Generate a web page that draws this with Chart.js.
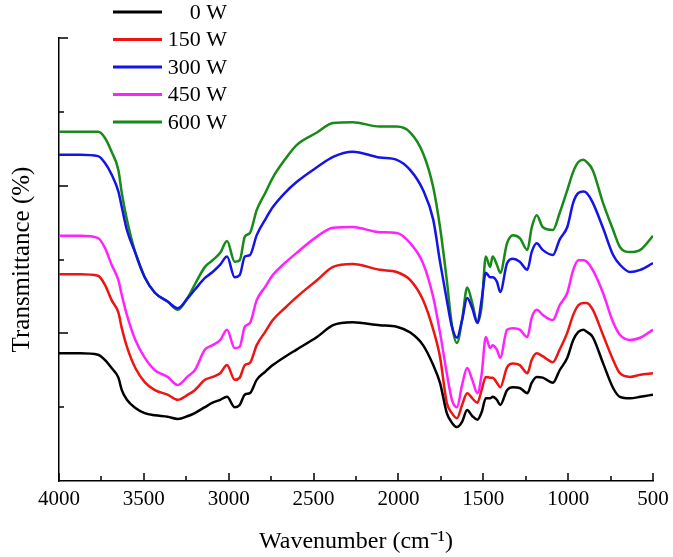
<!DOCTYPE html>
<html lang="en">
<head>
  <meta charset="UTF-8">
  <title>FTIR spectra</title>
  <script src="https://cdn.jsdelivr.net/npm/chart.js"></script>
  <style>
    body { margin: 0; background: white; }
    .wrap { width: 673px; height: 557px; position: relative; }
  </style>
</head>
<body>
  <div class="wrap"><canvas id="ftirChart"></canvas></div>

  <script>
    // wavenumbers (cm-1), shared by all spectra
    const wavenumbers = [4000, 3875, 3770, 3730, 3690, 3650, 3630, 3600, 3550, 3495,
      3435, 3360, 3300, 3240, 3200, 3140, 3095, 3050, 3010, 2965,
      2935, 2905, 2875, 2835, 2785, 2740, 2670, 2600, 2480, 2385,
      2270, 2110, 2010, 1930, 1855, 1795, 1755, 1715, 1685, 1655,
      1625, 1595, 1565, 1535, 1510, 1485, 1460, 1445, 1420, 1400,
      1360, 1325, 1285, 1240, 1215, 1185, 1150, 1090, 1050, 1005,
      970, 940, 910, 890, 855, 795, 735, 695, 635, 575,
      500];

    const w0 = [17.3, 17.3, 17.1, 16.4, 15.3, 14.0, 12.3, 11.0, 9.9, 9.2,
      8.9, 8.7, 8.4, 8.8, 9.2, 10.0, 10.6, 11.0, 11.4, 10.0,
      10.3, 11.7, 11.9, 13.7, 14.8, 15.7, 16.8, 17.8, 19.5, 21.1,
      21.5, 21.1, 20.9, 20.1, 18.4, 15.7, 13.3, 9.2, 7.9, 7.3,
      8.0, 9.6, 8.8, 8.3, 9.3, 11.2, 11.2, 11.4, 11.0, 10.3,
      12.3, 12.7, 12.6, 11.9, 13.3, 14.1, 14.0, 13.3, 15.0, 16.7,
      19.1, 20.2, 20.5, 20.2, 19.5, 16.0, 12.6, 11.4, 11.2, 11.4,
      11.7];

    const w150 = [28.0, 28.0, 27.8, 26.6, 24.5, 22.8, 20.7, 18.2, 15.3, 13.4,
      12.3, 11.7, 11.0, 11.7, 12.3, 13.7, 14.1, 14.6, 15.7, 13.7,
      14.0, 15.7, 16.0, 18.4, 20.2, 21.8, 23.4, 24.9, 27.2, 29.0,
      29.4, 28.6, 28.3, 27.2, 24.5, 20.5, 16.8, 10.6, 9.2, 8.5,
      10.3, 11.9, 11.2, 10.6, 12.3, 14.1, 14.0, 14.0, 13.3, 12.7,
      15.4, 15.9, 15.7, 14.6, 16.4, 17.3, 16.9, 16.1, 17.8, 20.1,
      22.5, 23.8, 24.1, 24.1, 23.2, 19.8, 16.4, 14.6, 14.1, 14.4,
      14.6];

    const w300 = [44.2, 44.2, 44.0, 43.1, 41.5, 39.2, 37.1, 34.0, 30.9, 27.6,
      25.5, 24.3, 23.4, 24.8, 25.9, 27.5, 28.3, 29.3, 30.4, 27.6,
      27.9, 30.4, 30.6, 33.3, 35.4, 37.1, 39.0, 40.5, 42.5, 43.9,
      44.6, 43.8, 43.5, 42.1, 39.4, 35.4, 29.7, 24.5, 20.9, 19.4,
      21.8, 24.8, 23.4, 21.4, 24.5, 28.2, 27.6, 27.6, 27.0, 25.6,
      29.5, 30.1, 29.7, 28.6, 31.0, 32.2, 31.3, 30.6, 32.7, 34.4,
      37.7, 39.0, 39.2, 39.0, 37.7, 34.3, 30.6, 29.3, 28.3, 28.6,
      29.5];

    const w450 = [33.2, 33.2, 32.9, 31.6, 29.3, 27.2, 25.2, 22.5, 19.1, 16.7,
      15.0, 14.1, 13.0, 14.2, 15.0, 17.8, 18.4, 19.1, 20.5, 18.0,
      18.2, 20.9, 21.4, 24.5, 26.3, 27.9, 29.5, 30.9, 33.1, 34.3,
      34.4, 33.7, 33.6, 32.2, 29.5, 24.9, 20.1, 14.6, 11.0, 10.0,
      13.0, 15.3, 13.7, 11.9, 14.4, 19.5, 18.0, 18.4, 17.8, 16.7,
      20.5, 20.7, 20.5, 19.5, 22.1, 23.2, 22.5, 21.8, 23.8, 25.5,
      28.6, 29.9, 29.9, 29.7, 28.6, 25.5, 21.5, 19.8, 19.1, 19.4,
      20.5];

    const w600 = [47.3, 47.3, 47.3, 46.5, 44.6, 42.1, 39.0, 35.4, 30.9, 27.6,
      25.5, 24.3, 23.2, 24.9, 26.6, 29.0, 29.9, 30.9, 32.5, 29.7,
      29.9, 33.1, 33.6, 36.7, 39.0, 41.1, 43.5, 45.5, 47.2, 48.5,
      48.6, 48.0, 48.0, 47.2, 44.4, 39.8, 34.4, 27.2, 21.1, 18.7,
      21.8, 26.2, 24.1, 21.5, 23.6, 30.4, 29.0, 30.4, 29.3, 28.2,
      32.2, 33.3, 32.9, 31.3, 34.3, 36.0, 34.4, 34.0, 36.3, 39.4,
      41.9, 43.2, 43.5, 43.2, 42.1, 37.7, 34.0, 31.7, 31.0, 31.3,
      33.2];

    const seriesLabels = ['0 W', '150 W', '300 W', '450 W', '600 W'];
    const seriesValues = [w0, w150, w300, w450, w600];
    const seriesColors = ['#000000', '#ee1414', '#1414e6', '#ff22ff', '#178a17'];

    const xTicks = [500, 1000, 1500, 2000, 2500, 3000, 3500, 4000];
    const yTicks = [10, 20, 30, 40, 50, 60];

    const serif = '"Liberation Serif", "Times New Roman", serif';

    // tick marks pointing into the plot, as in the original figure
    const innerTicks = {
      id: 'innerTicks',
      afterDraw(chart) {
        const { ctx, chartArea, scales: { x, y } } = chart;
        ctx.save();
        ctx.strokeStyle = '#000';
        ctx.lineWidth = 1.5;
        ctx.beginPath();
        for (let wn = 500; wn <= 4000; wn += 250) {
          const px = Math.round(x.getPixelForValue(wn));
          const len = xTicks.includes(wn) ? 8 : 5;
          ctx.moveTo(px, chartArea.bottom);
          ctx.lineTo(px, chartArea.bottom - len);
        }
        yTicks.forEach(v => {
          const py = Math.round(y.getPixelForValue(v));
          const len = v % 20 === 0 ? 9 : 5;
          ctx.moveTo(chartArea.left, py);
          ctx.lineTo(chartArea.left + len, py);
        });
        ctx.stroke();
        ctx.restore();
      }
    };

    // legend in the top left corner, labels right aligned
    const cornerLegend = {
      id: 'cornerLegend',
      afterDraw(chart) {
        const ctx = chart.ctx;
        ctx.save();
        ctx.font = '22px ' + serif;
        ctx.textAlign = 'right';
        ctx.textBaseline = 'middle';
        chart.data.datasets.forEach((ds, i) => {
          const yy = 12 + i * 27.5;
          ctx.strokeStyle = ds.borderColor;
          ctx.lineWidth = 3;
          ctx.beginPath();
          ctx.moveTo(113, yy);
          ctx.lineTo(162, yy);
          ctx.stroke();
          ctx.fillStyle = '#000';
          ctx.fillText(ds.label, 227, yy + 1);
        });
        ctx.restore();
      }
    };

    new Chart(document.getElementById('ftirChart'), {
      type: 'line',
      data: {
        datasets: seriesLabels.map((label, i) => ({
          label: label,
          data: wavenumbers.map((wn, j) => ({ x: wn, y: seriesValues[i][j] })),
          borderColor: seriesColors[i],
          borderWidth: 2.5,
          pointRadius: 0,
          tension: 0.3,
          cubicInterpolationMode: 'monotone',
          fill: false
        }))
      },
      options: {
        responsive: true,
        maintainAspectRatio: false,
        animation: false,
        layout: { padding: { top: 38, right: 20, left: 0, bottom: 0 } },
        plugins: {
          legend: { display: false },
          tooltip: { enabled: false }
        },
        scales: {
          x: {
            type: 'linear',
            reverse: true,
            min: 500,
            max: 4000,
            afterBuildTicks: scale => { scale.ticks = xTicks.map(v => ({ value: v })); },
            afterFit: scale => { scale.height = 76; },
            grid: { display: true, drawOnChartArea: false, drawTicks: false },
            border: { display: true, color: '#000', width: 1.5 },
            ticks: {
              color: '#000',
              padding: 6,
              maxRotation: 0,
              font: { family: serif, size: 21 },
              callback: v => String(v)
            },
            title: {
              display: true,
              text: 'Wavenumber (cm\u207B\u00B9)',
              color: '#000',
              padding: { top: 1, bottom: 1 },
              font: { family: serif, size: 24 }
            }
          },
          y: {
            min: 0,
            max: 60,
            afterFit: scale => { scale.width = 59; },
            grid: { display: true, drawOnChartArea: false, drawTicks: false },
            border: { display: true, color: '#000', width: 1.5 },
            ticks: { display: false, stepSize: 10 },
            title: {
              display: true,
              text: 'Transmittance (%)',
              color: '#000',
              padding: { top: 7, bottom: 0 },
              font: { family: serif, size: 25 }
            }
          }
        }
      },
      plugins: [innerTicks, cornerLegend]
    });
  </script>
</body>
</html>
